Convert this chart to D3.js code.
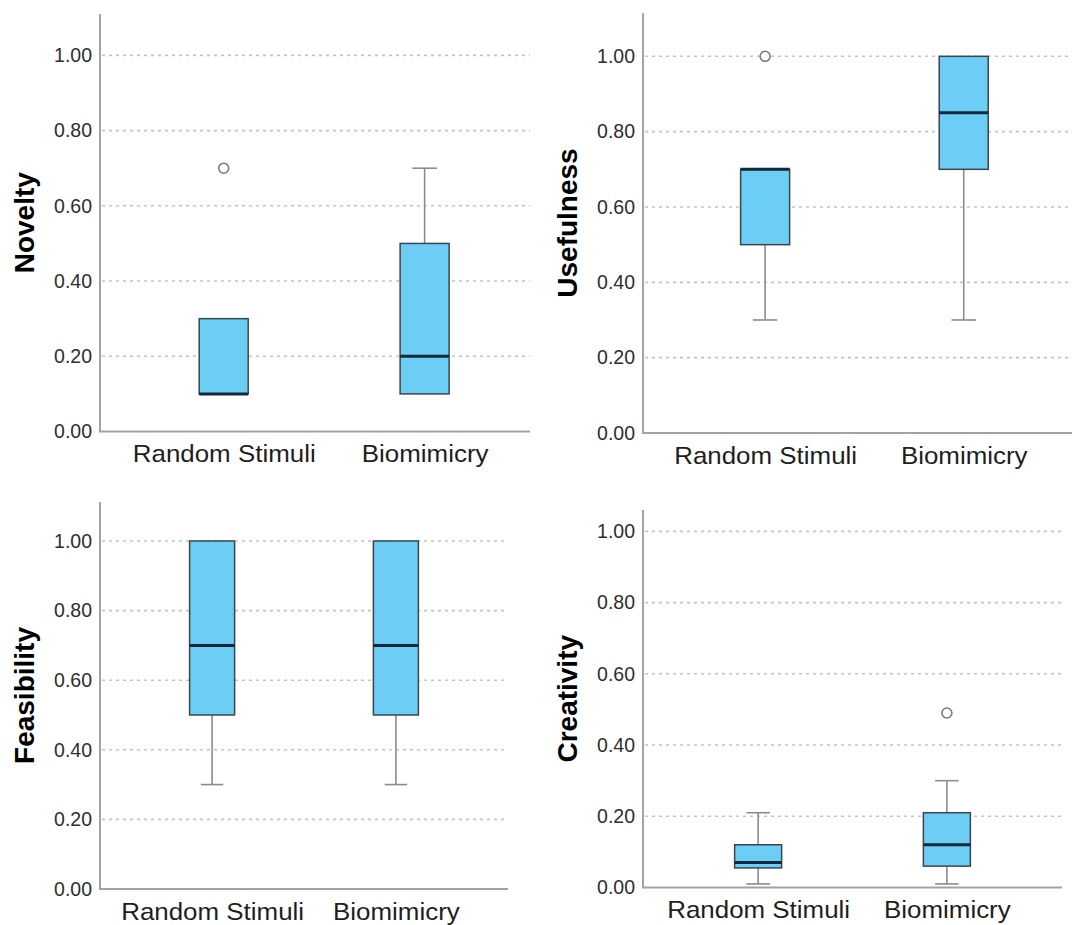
<!DOCTYPE html>
<html>
<head>
<meta charset="utf-8">
<script src="https://cdn.jsdelivr.net/npm/d3@7"></script>
<style>
  html, body { margin: 0; padding: 0; background: #ffffff; }
  svg { display: block; }
</style>
</head>
<body>
<svg id="chart" width="1075" height="925"></svg>
<script>
// ---------------- DATA ----------------
const categories = ["Random Stimuli", "Biomimicry"];
const metrics = ["Novelty", "Usefulness", "Feasibility", "Creativity"];
const tickValues = [0, 0.2, 0.4, 0.6, 0.8, 1.0];
const tickLabels = ["0.00", "0.20", "0.40", "0.60", "0.80", "1.00"];

// each box: [lower whisker, Q1, median, Q3, upper whisker]
const noveltyBoxes = [[0.10, 0.10, 0.10, 0.30, 0.30], [0.10, 0.10, 0.20, 0.50, 0.70]];
const noveltyOutliers = [[0.70], []];
const usefulnessBoxes = [[0.30, 0.50, 0.70, 0.70, 0.70], [0.30, 0.70, 0.85, 1.00, 1.00]];
const usefulnessOutliers = [[1.00], []];
const feasibilityBoxes = [[0.30, 0.50, 0.70, 1.00, 1.00], [0.30, 0.50, 0.70, 1.00, 1.00]];
const feasibilityOutliers = [[], []];
const creativityBoxes = [[0.01, 0.055, 0.07, 0.12, 0.21], [0.01, 0.06, 0.12, 0.21, 0.30]];
const creativityOutliers = [[], [0.49]];

const boxesByMetric = [noveltyBoxes, usefulnessBoxes, feasibilityBoxes, creativityBoxes];
const outliersByMetric = [noveltyOutliers, usefulnessOutliers, feasibilityOutliers, creativityOutliers];

// ---------------- LAYOUT (positions / styles only) ----------------
const layout = [
  { left: 100, right: 530,  top: 14,  bottom: 431.5, yMax: 1.11,  pad: 0.57, align: 0.54, bw: 49 },
  { left: 643, right: 1072, top: 13,  bottom: 433,   yMax: 1.115, pad: 0.58, align: 0.53, bw: 49 },
  { left: 100, right: 508,  top: 502, bottom: 889,   yMax: 1.112, pad: 0.61, align: 0.50, bw: 45 },
  { left: 643, right: 1062, top: 510, bottom: 887.5, yMax: 1.06,  pad: 0.61, align: 0.50, bw: 47 }
];

const style = {
  boxFill: "#6ccef5",
  boxStroke: "#3a454d",
  median: "#13293a",
  whisker: "#8c8c8c",
  axis: "#a3a3a3",
  grid: "#c4c4c4",
  tickText: "#2e2e2e",
  labelText: "#1e1e1e",
  font: "'Liberation Sans', Arial, Helvetica, sans-serif"
};

const svg = d3.select("#chart");

metrics.forEach((metric, mi) => {
  const L = layout[mi];
  const g = svg.append("g");

  const y = d3.scaleLinear().domain([0, L.yMax]).range([L.bottom, L.top]);
  const x = d3.scalePoint().domain(categories).range([L.left, L.right]).padding(L.pad).align(L.align);

  // gridlines (dotted)
  g.selectAll(".grid").data(tickValues.filter(v => v > 0)).join("line")
    .attr("x1", L.left + 2).attr("x2", L.right)
    .attr("y1", d => y(d)).attr("y2", d => y(d))
    .attr("stroke", style.grid).attr("stroke-width", 1.6)
    .attr("stroke-dasharray", "3,4");

  // y axis via d3.axisLeft (ticks hidden, labels only)
  const yAxis = d3.axisLeft(y).tickValues(tickValues)
    .tickFormat((d, i) => tickLabels[i]).tickSize(0).tickPadding(8);
  const ya = g.append("g").attr("transform", `translate(${L.left},0)`).call(yAxis);
  ya.select(".domain").remove();
  ya.selectAll("text")
    .attr("font-family", style.font).attr("font-size", 19.5)
    .attr("fill", style.tickText);

  // axis lines
  g.append("line").attr("x1", L.left).attr("x2", L.left)
    .attr("y1", L.top).attr("y2", L.bottom + 1)
    .attr("stroke", style.axis).attr("stroke-width", 2);
  g.append("line").attr("x1", L.left).attr("x2", L.right)
    .attr("y1", L.bottom).attr("y2", L.bottom)
    .attr("stroke", style.axis).attr("stroke-width", 2);

  // x axis labels via d3.axisBottom
  const xAxis = d3.axisBottom(x).tickSize(0).tickPadding(0);
  const xa = g.append("g").attr("transform", `translate(0,${L.bottom})`).call(xAxis);
  xa.select(".domain").remove();
  xa.selectAll("text")
    .attr("font-family", style.font).attr("font-size", 24)
    .attr("fill", style.labelText)
    .attr("dy", null).attr("y", 31)
    .attr("transform", "scale(1.08,1)")
    .attr("x", 0);

  // y title
  g.append("text")
    .attr("transform", `translate(${L.left - 66},${(L.top + L.bottom) / 2}) rotate(-90)`)
    .attr("text-anchor", "middle")
    .attr("font-family", style.font).attr("font-weight", "bold")
    .attr("font-size", 28).attr("fill", "#000")
    .text(metric);

  const boxes = boxesByMetric[mi];
  const outs = outliersByMetric[mi];
  const bw = L.bw;

  categories.forEach((cat, ci) => {
    const [lo, q1, med, q3, hi] = boxes[ci];
    const cx = x(cat);
    const bg = g.append("g");
    // whiskers
    if (hi > q3) {
      bg.append("line").attr("x1", cx).attr("x2", cx).attr("y1", y(q3)).attr("y2", y(hi))
        .attr("stroke", style.whisker).attr("stroke-width", 1.6);
      bg.append("line").attr("x1", cx - bw / 4).attr("x2", cx + bw / 4).attr("y1", y(hi)).attr("y2", y(hi))
        .attr("stroke", style.whisker).attr("stroke-width", 1.6);
    }
    if (lo < q1) {
      bg.append("line").attr("x1", cx).attr("x2", cx).attr("y1", y(q1)).attr("y2", y(lo))
        .attr("stroke", style.whisker).attr("stroke-width", 1.6);
      bg.append("line").attr("x1", cx - bw / 4).attr("x2", cx + bw / 4).attr("y1", y(lo)).attr("y2", y(lo))
        .attr("stroke", style.whisker).attr("stroke-width", 1.6);
    }
    // box
    bg.append("rect")
      .attr("x", cx - bw / 2).attr("width", bw)
      .attr("y", y(q3)).attr("height", y(q1) - y(q3))
      .attr("fill", style.boxFill).attr("stroke", style.boxStroke).attr("stroke-width", 1.5);
    // median
    bg.append("line").attr("x1", cx - bw / 2).attr("x2", cx + bw / 2)
      .attr("y1", y(med)).attr("y2", y(med))
      .attr("stroke", style.median).attr("stroke-width", 3);
    // outliers
    bg.selectAll("circle").data(outs[ci]).join("circle")
      .attr("cx", cx).attr("cy", d => y(d)).attr("r", 5)
      .attr("fill", "#fff").attr("stroke", "#7a7a7a").attr("stroke-width", 1.6);
  });
});
</script>
</body>
</html>
